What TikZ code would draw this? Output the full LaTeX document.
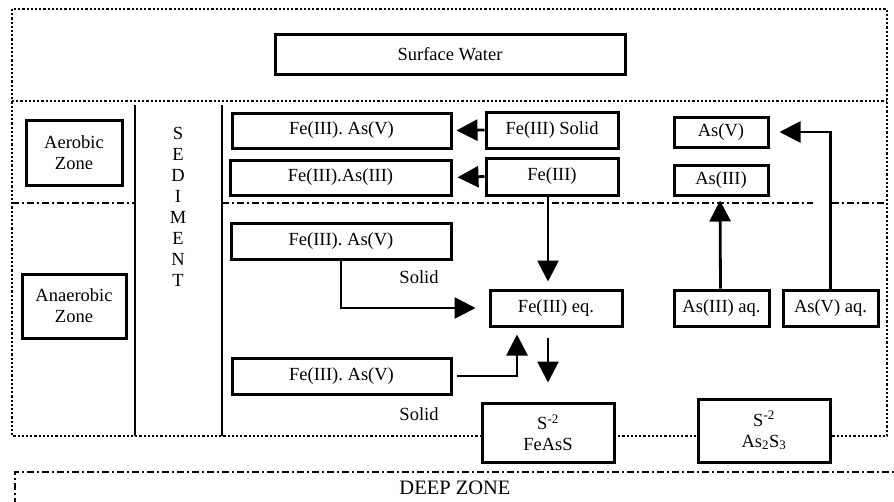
\documentclass[tikz,border=0pt]{standalone}
\usepackage{fontspec}
\setmainfont{Liberation Serif}
\usetikzlibrary{arrows.meta}

\begin{document}
\begin{tikzpicture}[x=1pt, y=-1pt, font=\fontsize{18.5}{21}\selectfont,
        box/.style={draw, line width=3pt, fill=white, inner sep=0pt, align=center},
        arr/.style={line width=2.8pt, -{Triangle[length=21pt,width=21pt]}},
        wall/.style={line width=2.8pt},
        zone/.style={line width=2.2pt, dotted},
        dashdot/.style={line width=2.2pt, dash pattern=on 7pt off 3pt on 2pt off 3pt}]
        \useasboundingbox (0,0) rectangle (894,501);
        %\draw[step=50, gray, very thin] (0,0) grid (894,501);
        % zones and columns
        \draw[zone] (12,9) rectangle (887,436);
        \draw[zone] (12,101) -- (887,101);
        \draw[dashdot] (12,203) -- (135,203);
        \draw[dashdot] (222,203) -- (813,203);
        \draw[dashdot] (832,203) -- (887,203);
        \draw[wall] (135,105) -- (135,436);
        \draw[wall] (222,105) -- (222,436);
        \draw[dashdot] (15,520) -- (15,472) -- (900,472);
        \node[font=\fontsize{20.5}{22}\selectfont] (deep) at (455,488) {DEEP ZONE};
        % boxes
        \node[box, minimum width=350, minimum height=40] (surf) at (450,54) {Surface Water};
        \node[box, minimum width=96, minimum height=65] (aer) at (74,152.5) {Aerobic\\Zone};
        \node[box, minimum width=104, minimum height=64] (anaer) at (74,306) {Anaerobic\\Zone};
        \node[align=center] (sed) at (178,207) {S\\E\\D\\I\\M\\E\\N\\T};
        \node[box, minimum width=219, minimum height=35] (feasv) at (341.5,130.5) {Fe(III). As(V)};
        \node[box, minimum width=221, minimum height=35] (feasiii) at (340.5,177.5) {Fe(III).As(III)};
        \node[box, minimum width=132, minimum height=36] (fesolid) at (552,130) {Fe(III) Solid};
        \node[box, minimum width=132, minimum height=37] (fe) at (552,176.5) {Fe(III)};
        \node[box, minimum width=94, minimum height=30] (asv) at (721,132) {As(V)};
        \node[box, minimum width=94, minimum height=30] (asiii) at (721,180) {As(III)};
        \node[box, minimum width=220, minimum height=36] (feasvb) at (341,241) {Fe(III). As(V)};
        \node (solida) at (419,277) {Solid};
        \node[box, minimum width=132, minimum height=36] (feeq) at (556,308) {Fe(III) eq.};
        \node[box, minimum width=219, minimum height=36] (feasvc) at (341.5,376) {Fe(III). As(V)};
        \node (solidb) at (419,414) {Solid};
        \node[box, minimum width=95, minimum height=36] (asiiiaq) at (721.5,308) {As(III) aq.};
        \node[box, minimum width=95, minimum height=36] (asvaq) at (830.5,308) {As(V) aq.};
        \node[box, minimum width=132, minimum height=59] (feass) at (548,432.5) {S\textsuperscript{-2}\\FeAsS};
        \node[box, minimum width=132, minimum height=63] (ass) at (764,430.5) {S\textsuperscript{-2}\\As\textsubscript{2}S\textsubscript{3}};
        % arrows
        \draw[arr, shorten >=4pt] (fesolid.west) -- (feasv.east);
        \draw[arr, shorten >=5pt] (fe.west) -- (feasiii.east);
        \draw[arr, shorten >=7pt] ([xshift=-4pt]fe.south) -- ([xshift=-4pt]fe.south |- feeq.north);
        \draw[arr, shorten >=13pt] (feasvb.south) |- (feeq.west);
        \draw[arr, shorten >=7pt] ([xshift=4pt]feasvc.east) -| ([xshift=-39pt]feeq.south);
        \draw[arr, shorten <=10pt, shorten >=19pt] (feass |- feeq.south) -- (feass.north);
        \draw[arr, shorten >=4pt] ([xshift=-1pt]asiiiaq.north) -- ([xshift=-1pt]asiii.south);
        \draw[arr, shorten >=10pt] (asvaq.north) |- (asv.east);
\end{tikzpicture}
\end{document}
